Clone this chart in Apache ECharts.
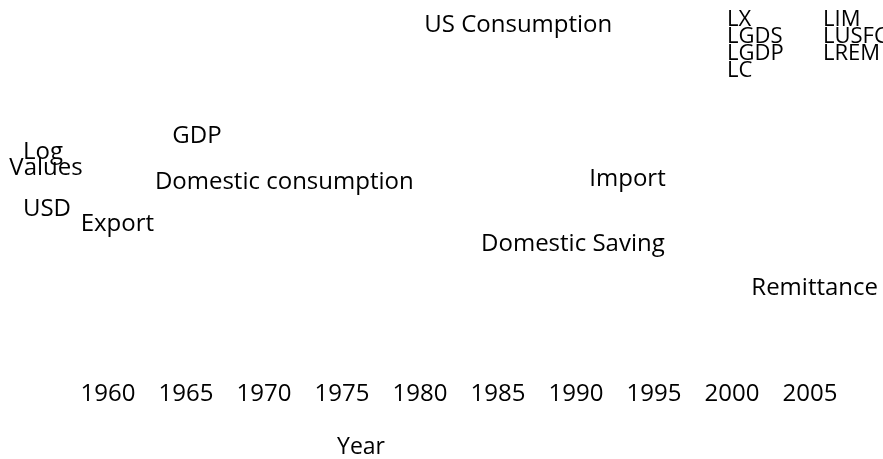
<!DOCTYPE html>
<html>
<head>
<meta charset="utf-8">
<script src="https://cdn.jsdelivr.net/npm/echarts@6/dist/echarts.min.js"></script>
<style>html,body{margin:0;padding:0;background:#fff}#c{width:883px;height:459px}</style>
</head>
<body>
<div id="c"></div>
<script>
// Axis ticks (years)
var yearTicks = [1960, 1965, 1970, 1975, 1980, 1985, 1990, 1995, 2000, 2005];
// Legend / series names (no visible lines in the reference)
var seriesNames = ['LX', 'LIM', 'LGDS', 'LUSFC', 'LGDP', 'LREM', 'LC'];
var legendCol1 = ['LX', 'LGDS', 'LGDP', 'LC'];
var legendCol2 = ['LIM', 'LUSFC', 'LREM'];
// Annotation labels placed at (year, value) on the chart
var annotationTexts = ['US Consumption', 'GDP', 'Domestic consumption', 'Export', 'Import', 'Domestic Saving', 'Remittance'];
var annotationYears = [1986.3, 1965.7, 1971.3, 1960.6, 1993.3, 1989.8, 2005.3];
var annotationValues = [93.2, 63.2, 50.9, 39.4, 51.6, 34.0, 22.1];
// Axis titles
var yTitleParts = ['Log', 'Values', 'USD'];
var xTitle = 'Year';

var FONT = '"Open Sans", "Noto Sans", sans-serif';
var chart = echarts.init(document.getElementById('c'), null, {renderer: 'canvas'});

var series = seriesNames.map(function (n) {
  return {name: n, type: 'line', data: [], showSymbol: false, silent: true};
});
series.push({
  type: 'scatter',
  symbolSize: 0,
  silent: true,
  clip: false,
  itemStyle: {opacity: 1},
  data: annotationTexts.map(function (t, i) { return {name: t, value: [annotationYears[i], annotationValues[i]]}; }),
  label: {
    show: true, position: 'inside', formatter: '{b}',
    color: '#000', fontFamily: FONT, fontSize: 24
  }
});

function legendAt(data, left) {
  return {
    data: data, orient: 'vertical', left: left, top: 4,
    icon: 'none', itemWidth: 0, itemHeight: 0, itemGap: -5,
    selectedMode: false,
    textStyle: {color: '#000', fontFamily: FONT, fontSize: 22, padding: 0}
  };
}

function titleText(txt, x, y, size) {
  return {type: 'text', x: x, y: y,
    style: {text: txt, fontFamily: FONT, fontSize: size, fill: '#000', align: 'center', verticalAlign: 'middle'}};
}

chart.setOption({
  animation: false,
  backgroundColor: '#fff',
  grid: {left: 108, right: 73, top: 0, bottom: 89},
  xAxis: {
    type: 'value', min: yearTicks[0], max: yearTicks[yearTicks.length - 1], interval: 5,
    axisLine: {show: false}, axisTick: {show: false}, splitLine: {show: false},
    axisLabel: {color: '#000', fontFamily: FONT, fontSize: 24, margin: 12,
      formatter: function (v) { return yearTicks.indexOf(v) >= 0 ? String(v) : ''; }}
  },
  yAxis: {
    type: 'value', min: 0, max: 100, show: false
  },
  legend: [legendAt(legendCol1, 717), legendAt(legendCol2, 813)],
  series: series,
  graphic: [
    titleText(yTitleParts[0], 43, 152, 24),
    titleText(yTitleParts[1], 46, 168, 24),
    titleText(yTitleParts[2], 47, 209, 24),
    titleText(xTitle, 361, 447, 23)
  ]
});
</script>
</body>
</html>
